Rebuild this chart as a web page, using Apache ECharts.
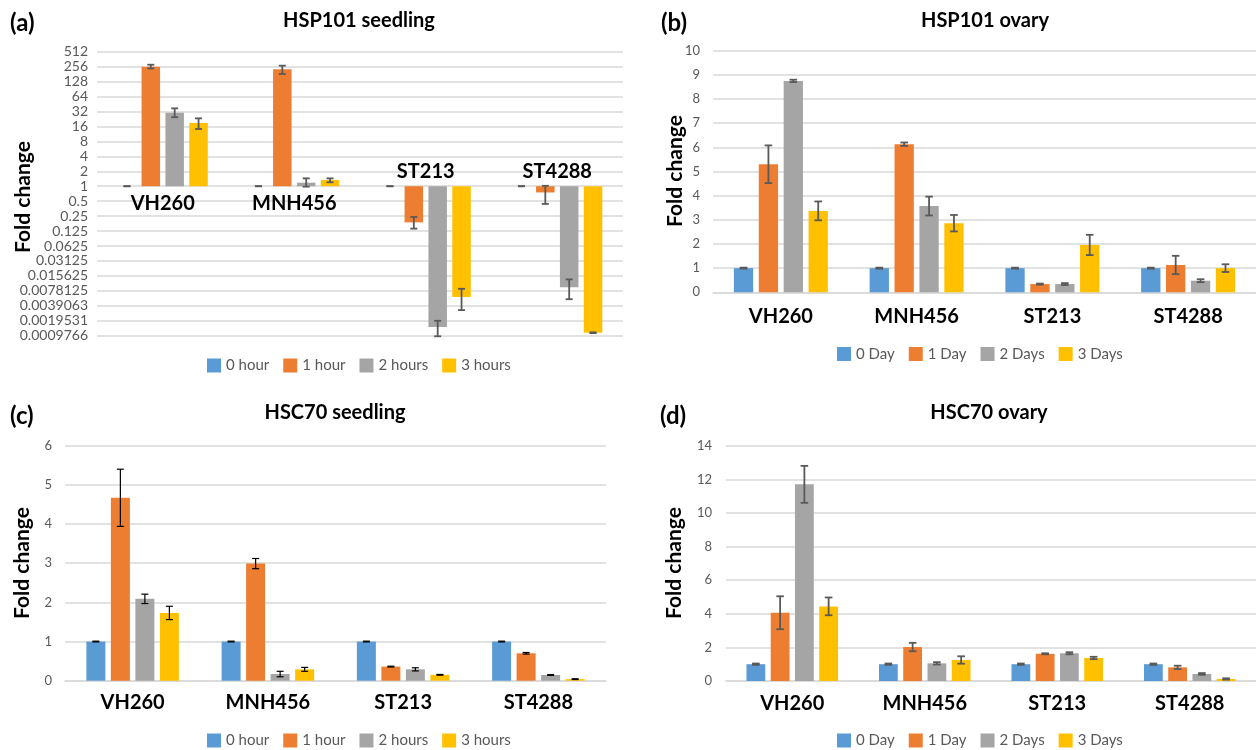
<!DOCTYPE html>
<html><head><meta charset="utf-8">
<script src="https://cdn.jsdelivr.net/npm/echarts@6/dist/echarts.min.js"></script>
<style>html,body{margin:0;padding:0;background:#fff}#c{width:1256px;height:750px}</style>
</head><body><div id="c"></div>
<script>
// ---------- DATA ----------
const categories = ['VH260', 'MNH456', 'ST213', 'ST4288'];
const hourNames = ['0 hour', '1 hour', '2 hours', '3 hours'];
const dayNames = ['0 Day', '1 Day', '2 Days', '3 Days'];
const panelTitles = ['HSP101 seedling', 'HSP101 ovary', 'HSC70 seedling', 'HSC70 ovary'];
const panelLetters = ['(a)', '(b)', '(c)', '(d)'];
const yName = 'Fold change';

// (a) HSP101 seedling, log2 axis tick labels (2^-10 .. 2^9)
const aTickLabels = ['0.0009766', '0.0019531', '0.0039063', '0.0078125', '0.015625', '0.03125',
  '0.0625', '0.125', '0.25', '0.5', '1', '2', '4', '8', '16', '32', '64', '128', '256', '512'];
const aHour0 = [1, 1, 1, 1];
const aHour0Lo = [1, 1, 1, 1];
const aHour0Hi = [1, 1, 1, 1];
const aHour1 = [256, 226, 0.187, 0.75];
const aHour1Lo = [235, 182, 0.14, 0.44];
const aHour1Hi = [280, 268, 0.24, 1.02];
const aHour2 = [30.3, 1.18, 0.00146, 0.0092];
const aHour2Lo = [24.5, 0.98, 0.00095, 0.0053];
const aHour2Hi = [37, 1.44, 0.00195, 0.0133];
const aHour3 = [18.8, 1.33, 0.0059, 0.00112];
const aHour3Lo = [14.2, 1.2, 0.0032, 0.0011];
const aHour3Hi = [23.3, 1.44, 0.0086, 0.00114];

// (b) HSP101 ovary
const bDay0 = [1, 1, 1, 1];
const bDay0Err = [0.02, 0.02, 0.02, 0.02];
const bDay1 = [5.30, 6.13, 0.34, 1.13];
const bDay1Err = [0.78, 0.07, 0.02, 0.38];
const bDay2 = [8.75, 3.57, 0.34, 0.48];
const bDay2Err = [0.05, 0.39, 0.04, 0.06];
const bDay3 = [3.37, 2.86, 1.96, 1.0];
const bDay3Err = [0.39, 0.34, 0.42, 0.16];

// (c) HSC70 seedling
const cHour0 = [1, 1, 1, 1];
const cHour0Err = [0.01, 0.01, 0.01, 0.01];
const cHour1 = [4.67, 2.99, 0.36, 0.70];
const cHour1Err = [0.73, 0.13, 0.01, 0.02];
const cHour2 = [2.09, 0.17, 0.29, 0.145];
const cHour2Err = [0.12, 0.07, 0.04, 0.01];
const cHour3 = [1.73, 0.29, 0.15, 0.04];
const cHour3Err = [0.17, 0.05, 0.01, 0.01];

// (d) HSC70 ovary
const dDay0 = [1, 1, 1, 1];
const dDay0Err = [0.04, 0.04, 0.04, 0.04];
const dDay1 = [4.06, 2.02, 1.62, 0.81];
const dDay1Err = [0.98, 0.25, 0.03, 0.10];
const dDay2 = [11.70, 1.05, 1.65, 0.42];
const dDay2Err = [1.10, 0.07, 0.06, 0.05];
const dDay3 = [4.44, 1.25, 1.37, 0.12];
const dDay3Err = [0.53, 0.22, 0.07, 0.04];

// ---------- STYLE ----------
const COLORS = ['#5B9BD5', '#ED7D31', '#A5A5A5', '#FFC000'];
const FONT = 'Lato';
const GRIDC = '#d9d9d9';
const LABELC = '#595959';

// ---------- BUILD ----------
function errRenderer(step, color, lw, capHalf) {
  return function (params, api) {
    const ci = api.value(0), si = api.value(1);
    const pLo = api.coord([ci, api.value(2)]);
    const pHi = api.coord([ci, api.value(3)]);
    const x = pLo[0] + (si - 1.5) * step;
    const st = { stroke: color, lineWidth: lw };
    return {
      type: 'group', children: [
        { type: 'line', shape: { x1: x, y1: pLo[1], x2: x, y2: pHi[1] }, style: st },
        { type: 'line', shape: { x1: x - capHalf, y1: pLo[1], x2: x + capHalf, y2: pLo[1] }, style: st },
        { type: 'line', shape: { x1: x - capHalf, y1: pHi[1], x2: x + capHalf, y2: pHi[1] }, style: st }
      ]
    };
  };
}

const series = [];
function addPanel(xIdx, yIdx, names, vals, los, his, barW, errColor, errLw, capHalf) {
  const gapPct = 0.29;
  names.forEach((n, i) => {
    series.push({
      type: 'bar', name: n, xAxisIndex: xIdx, yAxisIndex: yIdx,
      data: vals[i], barWidth: barW, barGap: (gapPct * 100) + '%',
      itemStyle: { color: COLORS[i] }, emphasis: { disabled: true }, z: 2
    });
  });
  const errData = [];
  for (let s = 0; s < names.length; s++) {
    for (let c = 0; c < categories.length; c++) {
      errData.push([c, s, los[s][c], his[s][c]]);
    }
  }
  series.push({
    type: 'custom', name: 'err' + xIdx, xAxisIndex: xIdx, yAxisIndex: yIdx,
    dimensions: ['cat', 'ser', 'lo', 'hi'],
    encode: { x: 0, y: [2, 3] },
    data: errData, z: 5, clip: false, silent: true,
    renderItem: errRenderer(barW * (1 + gapPct), errColor, errLw, capHalf)
  });
}
function symLo(v, e) { return v.map((x, i) => x - e[i]); }
function symHi(v, e) { return v.map((x, i) => x + e[i]); }

addPanel(0, 0, hourNames, [aHour0, aHour1, aHour2, aHour3],
  [aHour0Lo, aHour1Lo, aHour2Lo, aHour3Lo], [aHour0Hi, aHour1Hi, aHour2Hi, aHour3Hi],
  18.5, '#595959', 1.8, 3.5);

const bV = [bDay0, bDay1, bDay2, bDay3], bE = [bDay0Err, bDay1Err, bDay2Err, bDay3Err];
addPanel(2, 1, dayNames, bV, bV.map((v, i) => symLo(v, bE[i])), bV.map((v, i) => symHi(v, bE[i])),
  19.3, '#595959', 1.8, 3.8);

const cV = [cHour0, cHour1, cHour2, cHour3], cE = [cHour0Err, cHour1Err, cHour2Err, cHour3Err];
addPanel(3, 2, hourNames, cV, cV.map((v, i) => symLo(v, cE[i])), cV.map((v, i) => symHi(v, cE[i])),
  19, '#000000', 1.2, 3.5);

const dV = [dDay0, dDay1, dDay2, dDay3], dE = [dDay0Err, dDay1Err, dDay2Err, dDay3Err];
addPanel(4, 3, dayNames, dV, dV.map((v, i) => symLo(v, dE[i])), dV.map((v, i) => symHi(v, dE[i])),
  18.8, '#595959', 1.8, 3.8);

const grids = [
  { left: 97, top: 51.7, width: 526, height: 284 },
  { left: 713, top: 50.7, width: 546, height: 241.6 },
  { left: 65, top: 445.7, width: 541, height: 235 },
  { left: 726, top: 445.7, width: 534, height: 235.3 }
];

const catLabel = { fontFamily: FONT, fontWeight: 'bold', fontSize: 20, color: '#000' };
const upSet = ['ST213', 'ST4288'];
const xAxes = [
  { gridIndex: 0, type: 'category', data: categories, position: 'bottom', offset: -149.5,
    axisLine: { show: false, onZero: false }, axisTick: { show: false },
    axisLabel: Object.assign({ margin: 7, formatter: v => upSet.includes(v) ? '' : v }, catLabel) },
  { gridIndex: 0, type: 'category', data: categories, position: 'bottom', offset: -149.5,
    axisLine: { show: false, onZero: false }, axisTick: { show: false },
    axisLabel: Object.assign({ inside: true, margin: 5, formatter: v => upSet.includes(v) ? v : '' }, catLabel) },
  { gridIndex: 1, type: 'category', data: categories, axisLine: { onZero: false, lineStyle: { color: GRIDC, width: 1.5 } },
    axisTick: { show: false }, axisLabel: Object.assign({ margin: 14 }, catLabel) },
  { gridIndex: 2, type: 'category', data: categories, axisLine: { onZero: false, lineStyle: { color: GRIDC, width: 1.5 } },
    axisTick: { show: false }, axisLabel: Object.assign({ margin: 12 }, catLabel) },
  { gridIndex: 3, type: 'category', data: categories, axisLine: { onZero: false, lineStyle: { color: GRIDC, width: 1.5 } },
    axisTick: { show: false }, axisLabel: Object.assign({ margin: 13 }, catLabel) }
];

const splitL = { show: true, lineStyle: { color: GRIDC, width: 1.5 } };
const yLab = (m, fs) => ({ margin: m, fontFamily: FONT, fontSize: fs, color: LABELC });
const yAxes = [
  { gridIndex: 0, type: 'log', logBase: 2, min: Math.pow(2, -10), max: 512, interval: 1, splitNumber: 19,
    axisLine: { show: false }, axisTick: { show: false }, splitLine: splitL,
    axisLabel: Object.assign(yLab(9, 14), { formatter: v => aTickLabels[Math.round(Math.log2(v)) + 10] }) },
  { gridIndex: 1, type: 'value', min: 0, max: 10, interval: 1,
    axisLine: { show: false }, axisTick: { show: false }, splitLine: splitL, axisLabel: yLab(13, 13) },
  { gridIndex: 2, type: 'value', min: 0, max: 6, interval: 1,
    axisLine: { show: false }, axisTick: { show: false }, splitLine: splitL, axisLabel: yLab(13, 13) },
  { gridIndex: 3, type: 'value', min: 0, max: 14, interval: 2,
    axisLine: { show: false }, axisTick: { show: false }, splitLine: splitL, axisLabel: yLab(14, 13) }
];

const legText = { fontFamily: FONT, fontSize: 15, color: LABELC };
const legBase = { icon: 'rect', itemWidth: 14, itemHeight: 14, itemGap: 14, selectedMode: false, textStyle: legText, padding: 0 };
const legends = [
  Object.assign({ data: hourNames, left: 207, top: 358 }, legBase),
  Object.assign({ data: dayNames, left: 837, top: 346.5 }, legBase),
  Object.assign({ data: hourNames, left: 207, top: 733 }, legBase),
  Object.assign({ data: dayNames, left: 837, top: 733 }, legBase)
];

const titlePos = [[359, 21], [985, 21], [335, 413], [989, 413]];
const letterPos = [[10, 23], [661, 23], [10, 416], [660, 416]];
const yNamePos = [[23, 197], [675, 171], [22, 563], [674, 563]];
const graphics = [];
for (let i = 0; i < 4; i++) {
  graphics.push({ type: 'text', x: titlePos[i][0], y: titlePos[i][1],
    style: { text: panelTitles[i], font: 'bold 20px ' + FONT, fill: '#000', align: 'center', verticalAlign: 'middle' } });
  graphics.push({ type: 'text', x: letterPos[i][0], y: letterPos[i][1],
    style: { text: panelLetters[i], font: 'bold 24px ' + FONT, fill: '#000', align: 'left', verticalAlign: 'middle' } });
  graphics.push({ type: 'text', x: yNamePos[i][0], y: yNamePos[i][1], rotation: Math.PI / 2,
    style: { text: yName, font: 'bold 21px ' + FONT, fill: '#000', align: 'center', verticalAlign: 'middle' } });
}

const chart = echarts.init(document.getElementById('c'), null, { renderer: 'canvas' });
chart.setOption({
  animation: false,
  backgroundColor: '#ffffff',
  grid: grids,
  xAxis: xAxes,
  yAxis: yAxes,
  legend: legends,
  series: series,
  graphic: graphics
});
</script>
</body></html>
